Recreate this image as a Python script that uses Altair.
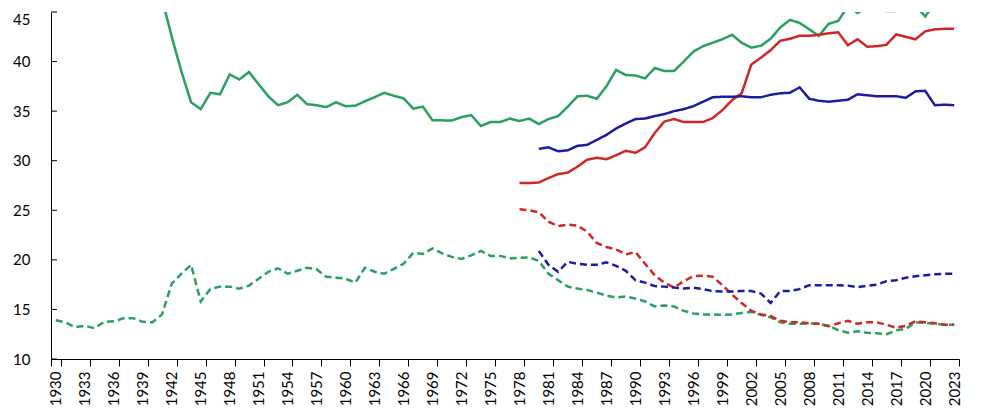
import altair as alt
import pandas as pd

years_all = list(range(1930, 2024))
x_labels = list(range(1930, 2024, 3))
y_ticks = [10, 15, 20, 25, 30, 35, 40, 45]

green_solid_years = list(range(1941, 2024))
green_solid = [
    46.3, 42.5, 39.0, 35.9, 35.2, 36.85, 36.7, 38.7, 38.2,
    38.95, 37.7, 36.5, 35.6, 35.9, 36.65, 35.7, 35.6, 35.4, 35.9,
    35.5, 35.55, 36.0, 36.4, 36.85, 36.55, 36.3, 35.25, 35.45, 34.07,
    34.07, 34.05, 34.4, 34.6, 33.5, 33.9, 33.9, 34.25, 34.0, 34.25,
    33.7, 34.2, 34.5, 35.45, 36.5, 36.55, 36.25, 37.5, 39.15, 38.65,
    38.6, 38.3, 39.35, 39.05, 39.05, 40.0, 41.0, 41.55, 41.9, 42.25,
    42.7, 41.9, 41.4, 41.6, 42.3, 43.45, 44.2, 43.9, 43.25, 42.6,
    43.8, 44.1, 45.6, 44.9, 45.5, 45.2, 45.1, 45.1, 45.3, 45.6,
    44.55, 45.9, 46.0, 46.0,
]
green_dashed = [
    13.9, 13.7, 13.2, 13.35, 13.1, 13.75, 13.8, 14.1, 14.1, 13.75,
    13.7, 14.5, 17.6, 18.6, 19.5, 15.8, 17.07, 17.3, 17.3, 17.1,
    17.4, 18.1, 18.8, 19.15, 18.6, 18.9, 19.2, 19.05, 18.3, 18.2,
    18.1, 17.7, 19.2, 18.8, 18.6, 19.1, 19.6, 20.7, 20.6, 21.15,
    20.65, 20.3, 20.1, 20.45, 20.9, 20.4, 20.4, 20.15, 20.2, 20.25,
    19.9, 18.6, 17.95, 17.3, 17.1, 16.95, 16.7, 16.4, 16.2, 16.3,
    16.1, 15.8, 15.3, 15.4, 15.3, 14.85, 14.6, 14.5, 14.5, 14.45,
    14.5, 14.65, 14.75, 14.45, 14.2, 13.7, 13.55, 13.55, 13.6, 13.55,
    13.35, 12.9, 12.65, 12.8, 12.65, 12.6, 12.5, 12.9, 13.05, 13.7,
    13.65, 13.55, 13.45, 13.45,
]

red_years = list(range(1978, 2024))
red_solid = [
    27.75, 27.75, 27.8, 28.25, 28.65, 28.8, 29.4, 30.1, 30.3, 30.15,
    30.55, 31.0, 30.8, 31.35, 32.8, 33.95, 34.2, 33.9, 33.9, 33.9,
    34.3, 35.1, 36.1, 36.8, 39.7, 40.4, 41.15, 42.1, 42.3, 42.6,
    42.6, 42.7, 42.85, 42.95, 41.65, 42.25, 41.5, 41.55, 41.7, 42.75,
    42.5, 42.25, 43.05, 43.25, 43.3, 43.3,
]
red_dashed = [
    25.1, 25.0, 24.8, 23.85, 23.4, 23.55, 23.45, 22.85, 21.7, 21.3,
    21.05, 20.55, 20.8, 19.6, 18.45, 17.7, 17.2, 17.85, 18.35, 18.4,
    18.3, 17.45, 16.5, 15.65, 14.85, 14.5, 14.35, 13.85, 13.7, 13.7,
    13.6, 13.55, 13.3, 13.6, 13.85, 13.55, 13.7, 13.7, 13.45, 13.15,
    13.35, 13.8, 13.7, 13.6, 13.45, 13.45,
]

blue_years = list(range(1980, 2024))
blue_solid = [
    31.2, 31.35, 30.95, 31.05, 31.5, 31.6, 32.1, 32.6, 33.25, 33.75,
    34.2, 34.25, 34.5, 34.7, 35.0, 35.2, 35.5, 35.95, 36.4, 36.45,
    36.45, 36.5, 36.4, 36.4, 36.65, 36.8, 36.85, 37.4, 36.25, 36.05,
    35.95, 36.05, 36.15, 36.7, 36.6, 36.5, 36.5, 36.5, 36.35, 37.0,
    37.05, 35.6, 35.65, 35.6,
]
blue_dashed = [
    20.9, 19.5, 18.8, 19.8, 19.6, 19.5, 19.5, 19.75, 19.4, 18.9,
    17.95, 17.7, 17.35, 17.3, 17.2, 17.1, 17.2, 17.05, 16.85, 16.8,
    16.8, 16.85, 16.85, 16.6, 15.65, 16.85, 16.85, 17.05, 17.45, 17.45,
    17.45, 17.45, 17.4, 17.25, 17.4, 17.5, 17.85, 17.95, 18.2, 18.35,
    18.45, 18.55, 18.6, 18.6,
]

series_names = ["green_solid", "green_dashed", "red_solid", "red_dashed", "blue_solid", "blue_dashed"]
series_colors = ["#28a05e", "#28a05e", "#d02626", "#d02626", "#1c1c9e", "#1c1c9e"]

rows = []
def add(name, kind, yrs, vals):
    for yr, v in zip(yrs, vals):
        rows.append({"year": yr, "value": v, "series": name, "kind": kind})

add("green_solid", "solid", green_solid_years, green_solid)
add("green_dashed", "dashed", years_all, green_dashed)
add("red_solid", "solid", red_years, red_solid)
add("red_dashed", "dashed", red_years, red_dashed)
add("blue_solid", "solid", blue_years, blue_solid)
add("blue_dashed", "dashed", blue_years, blue_dashed)
df = pd.DataFrame(rows)

font = "Lato"

x_enc = alt.X(
    "year:O",
    scale=alt.Scale(type="band", domain=years_all, paddingInner=0, paddingOuter=0),
    bandPosition=0.5,
    title=None,
    axis=alt.Axis(
        values=x_labels,
        tickBand="extent",
        labelAngle=-90,
        labelFont=font,
        labelFontSize=15,
        labelColor="black",
        tickColor="black",
        tickSize=7,
        labelPadding=5,
        domainColor="black",
        grid=False,
    ),
)
y_scale = alt.Scale(domain=[10, 45], nice=False, zero=False)

lines = alt.Chart(df).mark_line(strokeWidth=2.5, clip=True).encode(
    x=x_enc,
    y=alt.Y(
        "value:Q",
        scale=y_scale,
        title=None,
        axis=alt.Axis(
            values=y_ticks,
            ticks=False,
            labelPadding=21,
            labelFont=font,
            labelFontSize=15,
            labelColor="black",
            labelBaseline={"condition": {"test": "datum.value >= 45", "value": "top"}, "value": "middle"},
            domainColor="black",
            grid=False,
        ),
    ),
    color=alt.Color("series:N", scale=alt.Scale(domain=series_names, range=series_colors), legend=None),
    strokeDash=alt.StrokeDash(
        "kind:N",
        scale=alt.Scale(domain=["solid", "dashed"], range=[[1, 0], [7, 4]]),
        legend=None,
    ),
)

ticks_df = pd.DataFrame({"tick": y_ticks})
yticks = alt.Chart(ticks_df).mark_rule(color="black", strokeWidth=1).encode(
    y=alt.Y("tick:Q", scale=y_scale, title=None),
    x=alt.value(0),
    x2=alt.value(6),
)

chart = alt.layer(lines, yticks).properties(
    width=908,
    height=347,
    autosize=alt.AutoSizeParams(type="none"),
    padding={"left": 43, "top": 4, "right": 15, "bottom": 55},
).configure_view(stroke=None)

chart.save("out.html", embed_options={"renderer": "svg", "actions": False})
